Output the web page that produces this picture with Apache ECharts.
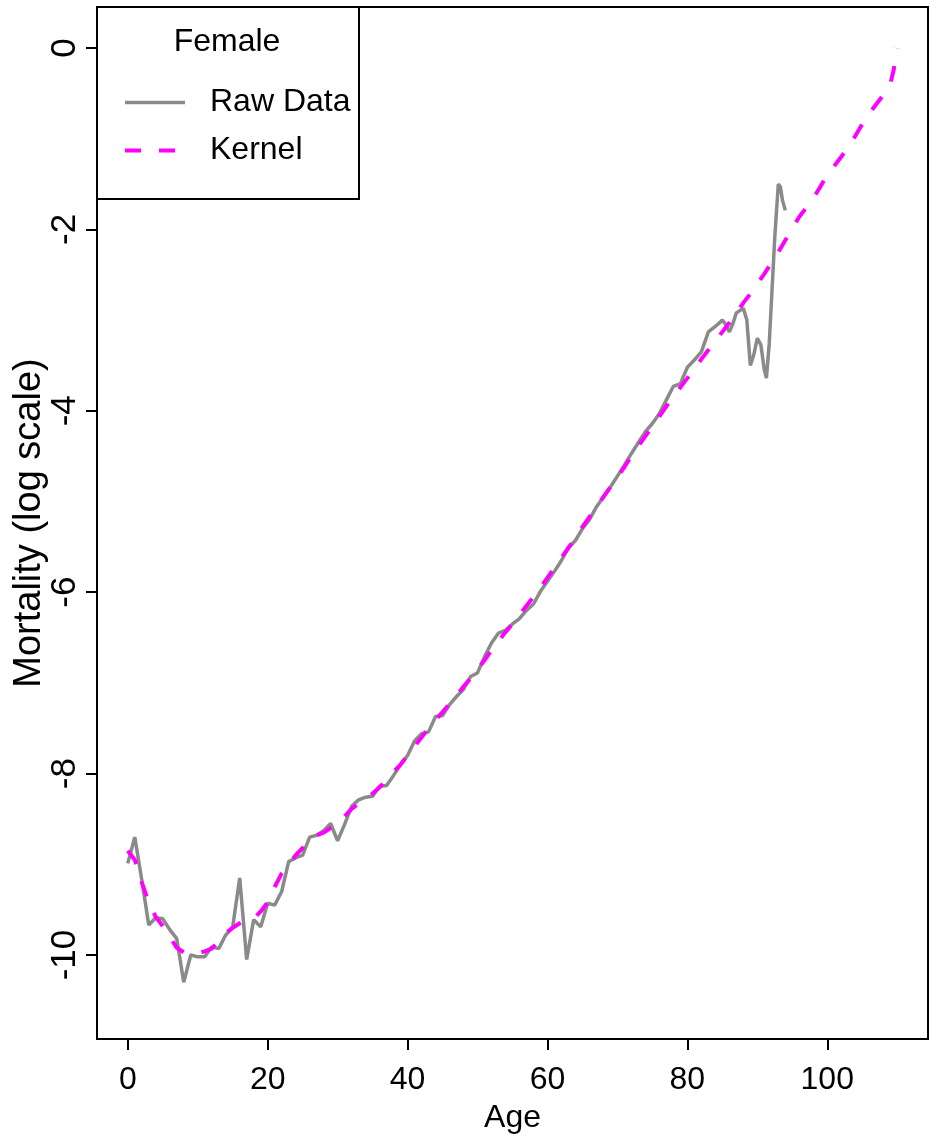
<!DOCTYPE html>
<html>
<head>
<meta charset="utf-8">
<script src="https://cdn.jsdelivr.net/npm/echarts@6/dist/echarts.min.js"></script>
<style>
  html, body { margin: 0; padding: 0; background: #ffffff; }
  #chart { width: 930px; height: 1142px; }
</style>
</head>
<body>
<div id="chart"></div>
<script>
// Female mortality by age (natural log of death rate): raw rates and kernel-smoothed curve
const rawAges = [
  0, 1, 2, 3, 4, 5, 6, 7, 8, 9, 10, 11, 12, 13, 14, 15, 16, 17, 18, 19,
  20, 21, 22, 23, 24, 25, 26, 27, 28, 29, 30, 31, 32, 33, 34, 35, 36, 37, 38, 39,
  40, 41, 42, 43, 44, 45, 46, 47, 48, 49, 50, 51, 52, 53, 54, 55, 56, 57, 58, 59,
  60, 61, 62, 63, 64, 65, 66, 67, 68, 69, 70, 71, 72, 73, 74, 75, 76, 77, 78, 79,
  80, 81, 82, 83, 84, 85, 85.5, 86, 86.5, 87, 88, 88.5, 89, 89.5, 90, 90.5, 91, 91.3, 91.7,
  92, 92.5, 93, 93.3, 93.6, 94
];
const rawValues = [
  -8.99, -8.70, -9.17, -9.67, -9.59, -9.60, -9.72, -9.82, -10.30, -10.00,
  -10.02, -10.02, -9.91, -9.93, -9.78, -9.69, -9.15, -10.05, -9.61, -9.69,
  -9.43, -9.45, -9.30, -8.97, -8.93, -8.90, -8.70, -8.68, -8.63, -8.55,
  -8.74, -8.56, -8.36, -8.29, -8.26, -8.25, -8.14, -8.13, -8.02, -7.90,
  -7.80, -7.64, -7.56, -7.54, -7.37, -7.36, -7.24, -7.15, -7.07, -6.93,
  -6.89, -6.71, -6.56, -6.45, -6.42, -6.35, -6.29, -6.20, -6.13, -5.99,
  -5.88, -5.77, -5.65, -5.51, -5.43, -5.30, -5.20, -5.06, -4.95, -4.84,
  -4.72, -4.60, -4.47, -4.35, -4.23, -4.14, -4.03, -3.88, -3.73, -3.70,
  -3.52, -3.44, -3.35, -3.13, -3.07, -3.00, -3.05, -3.13, -3.04, -2.92,
  -2.87, -3.00, -3.50, -3.38, -3.20, -3.27, -3.55, -3.64, -3.26,
  -2.82, -2.08, -1.50, -1.53, -1.68, -1.79
];

const kernelAges = [
  0, 1, 2, 3, 4, 5, 6, 7, 8, 9, 10, 11, 12, 13, 14, 15, 16, 17, 18, 19,
  20, 21, 22, 23, 24, 25, 26, 27, 28, 29, 30, 31, 32, 33, 34, 35, 36, 37, 38, 39,
  40, 41, 42, 43, 44, 45, 46, 47, 48, 49, 50, 51, 52, 53, 54, 55, 56, 57, 58, 59,
  60, 61, 62, 63, 64, 65, 66, 67, 68, 69, 70, 71, 72, 73, 74, 75, 76, 77, 78, 79,
  80, 81, 82, 83, 84, 85, 86, 87, 88, 89, 90, 91, 92, 93, 94, 95, 96, 97, 98, 99,
  100, 101, 102, 103, 104, 105, 106, 107, 108, 109, 109.5, 110
];
const kernelValues = [
  -8.85, -8.95, -9.20, -9.42, -9.58, -9.68, -9.80, -9.92, -9.97, -9.98,
  -9.98, -9.96, -9.93, -9.85, -9.76, -9.70, -9.65, -9.62, -9.60, -9.52,
  -9.42, -9.25, -9.10, -9.00, -8.90, -8.82, -8.73, -8.68, -8.65, -8.60,
  -8.55, -8.47, -8.39, -8.33, -8.28, -8.22, -8.15, -8.07, -7.98, -7.90,
  -7.80, -7.70, -7.60, -7.50, -7.41, -7.32, -7.23, -7.14, -7.04, -6.95,
  -6.85, -6.75, -6.64, -6.54, -6.44, -6.35, -6.25, -6.15, -6.05, -5.95,
  -5.84, -5.73, -5.62, -5.51, -5.40, -5.28, -5.17, -5.06, -4.95, -4.84,
  -4.73, -4.62, -4.50, -4.39, -4.28, -4.17, -4.06, -3.95, -3.84, -3.74,
  -3.64, -3.54, -3.43, -3.33, -3.23, -3.13, -3.03, -2.92, -2.81, -2.71,
  -2.60, -2.49, -2.37, -2.25, -2.12, -1.99, -1.86, -1.76, -1.66, -1.53,
  -1.40, -1.30, -1.20, -1.09, -0.97, -0.84, -0.72, -0.62, -0.52, -0.40,
  -0.24, 0.00
];

const xTicks = [0, 20, 40, 60, 80, 100];
const yTicks = [-10, -8, -6, -4, -2, 0];

const legendTitle = 'Female';
const seriesNames = ['Raw Data', 'Kernel'];
const xTitle = 'Age';
const yTitle = 'Mortality (log scale)';

const sans = "'Liberation Sans', Arial, sans-serif";
const rawColor = '#8a8a8a';
const kernelColor = '#ff00ff';
const kernelDash = [16, 18];

const pairs = (xs, ys) => xs.map((x, i) => [x, ys[i]]);

const chart = echarts.init(document.getElementById('chart'), null, { renderer: 'canvas' });

chart.setOption({
  animation: false,
  backgroundColor: '#ffffff',
  grid: {
    left: 97, right: 2, top: 7, bottom: 103,
    outerBoundsMode: 'none',
    containLabel: false,
    show: true, borderColor: '#000000', borderWidth: 2,
    backgroundColor: 'transparent'
  },
  xAxis: {
    type: 'value',
    min: -4.4, max: 114.4,
    name: xTitle,
    nameLocation: 'middle',
    nameGap: 63,
    nameMoveOverlap: false,
    nameTextStyle: { fontFamily: sans, fontSize: 32, color: '#000' },
    axisLine: { show: false, onZero: false },
    splitLine: { show: false },
    axisTick: {
      show: true, length: 11, inside: false,
      customValues: xTicks,
      lineStyle: { color: '#000', width: 2 }
    },
    axisLabel: {
      customValues: xTicks,
      margin: 25,
      fontFamily: sans, fontSize: 32, color: '#000'
    }
  },
  yAxis: {
    type: 'value',
    min: -10.926, max: 0.452,
    name: yTitle,
    nameLocation: 'middle',
    nameRotate: 90,
    nameGap: 48,
    nameMoveOverlap: false,
    nameTextStyle: { fontFamily: sans, fontSize: 38, color: '#000' },
    axisLine: { show: false, onZero: false },
    splitLine: { show: false },
    axisTick: {
      show: true, length: 11, inside: false,
      customValues: yTicks,
      lineStyle: { color: '#000', width: 2 }
    },
    axisLabel: {
      customValues: yTicks,
      rotate: 90,
      margin: 14,
      fontFamily: sans, fontSize: 35, color: '#000'
    }
  },
  legend: {
    orient: 'vertical',
    left: 123, top: 86,
    itemWidth: 60, itemHeight: 20,
    itemGap: 15,
    padding: 0,
    textStyle: {
      fontFamily: sans, fontSize: 32, color: '#000',
      lineHeight: 33, padding: [0, 0, 0, 20]
    },
    data: [
      {
        name: seriesNames[0],
        itemStyle: { opacity: 0 },
        lineStyle: { color: rawColor, width: 3.5, type: 'solid' }
      },
      {
        name: seriesNames[1],
        itemStyle: { opacity: 0 },
        lineStyle: { color: kernelColor, width: 4, type: kernelDash }
      }
    ]
  },
  graphic: [
    {
      type: 'rect', z: 10, silent: true,
      shape: { x: 97, y: 7, width: 262, height: 192 },
      style: { fill: 'none', stroke: '#000000', lineWidth: 2 }
    },
    {
      type: 'text', z: 11, silent: true,
      x: 227, y: 42,
      style: {
        text: legendTitle, fontFamily: sans, fontSize: 32, fill: '#000',
        align: 'center', verticalAlign: 'middle'
      }
    }
  ],
  series: [
    {
      name: seriesNames[0],
      type: 'line',
      data: pairs(rawAges, rawValues),
      symbol: 'none',
      lineStyle: { color: rawColor, width: 3.5 },
      itemStyle: { color: rawColor },
      z: 2
    },
    {
      name: seriesNames[1],
      type: 'line',
      data: pairs(kernelAges, kernelValues),
      symbol: 'none',
      lineStyle: { color: kernelColor, width: 4, type: kernelDash },
      itemStyle: { color: kernelColor },
      z: 3
    }
  ]
});
</script>
</body>
</html>
